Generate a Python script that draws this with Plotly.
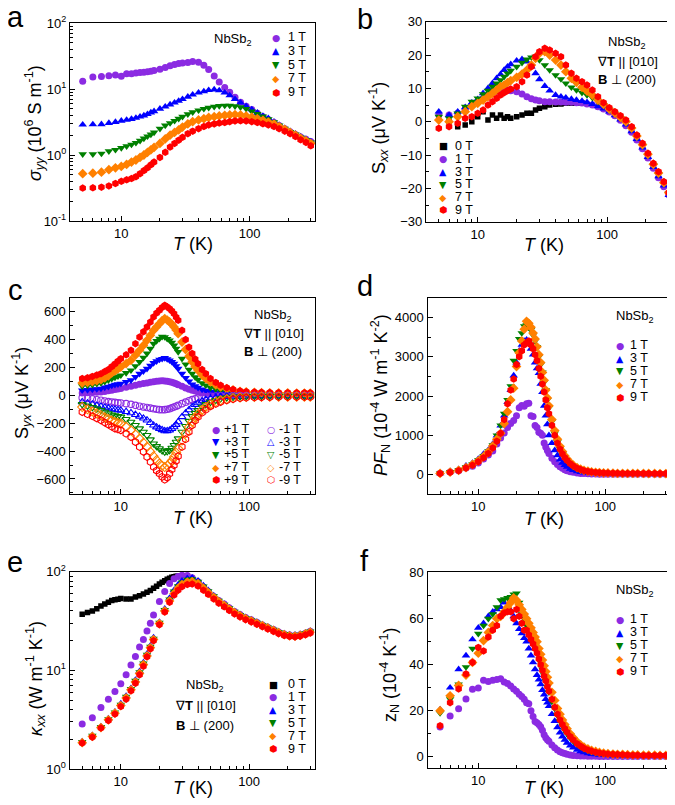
import plotly.graph_objects as go

# page body keeps an 8 px margin, so the figure is drawn 8 px smaller and offset
OFF = 8
W, H = 675 - OFF, 805 - OFF

# ---------------- temperature grids (K) ----------------
T = [5, 6, 7, 8, 9, 10, 11, 12, 13, 14,
     15, 16, 17, 18, 20, 22, 24, 26, 28, 30,
     33, 36, 40, 44, 48, 53, 58, 64, 70, 77,
     85, 94, 104, 115, 127, 140, 155, 170, 188, 207,
     228, 250, 275, 300]
T_b0 = [6, 7, 8, 9, 10, 11, 12, 13, 14, 15, 16, 17, 18, 20, 22, 24, 26, 28, 30,
        33, 36, 40, 44, 48, 53, 58, 64]
T_e0 = [5, 5.5, 6, 6.5, 7, 7.5, 8, 8.5, 9, 9.5, 10, 11, 12, 13, 14, 15, 16, 17, 18,
        19, 20, 21, 22, 23, 24, 25, 26, 27, 28]
T_c = [5, 5.5, 6, 6.5, 7, 7.5, 8, 8.5, 9, 9.5,
       10, 11, 12, 13, 14, 15, 16, 17, 18, 19,
       20, 21, 22, 23, 24, 25, 26, 27, 28, 30,
       32, 34, 36, 38, 40, 43, 46, 50, 55, 60,
       67, 75, 85, 95, 110, 125, 145, 170, 200, 235,
       270, 300]
T_df = [5, 6, 7, 8, 9, 10, 11, 12, 13, 14,
        15, 16, 17, 18, 19, 20, 21, 22, 23, 24,
        25, 26, 27, 28, 29, 30, 31, 32, 33, 34,
        35, 36, 38, 40, 42, 44, 46, 48, 50, 53,
        56, 60, 64, 68, 73, 78, 84, 90, 97, 105,
        115, 125, 137, 150, 165, 180, 200, 220, 245, 270,
        300]

# ---------------- a: sigma_yy (10^6 S/m) ----------------
sig_1T = [13.1, 15.2, 15.5, 15.9, 16.3, 15.6, 17.0, 17.0, 17.5, 17.8,
          18.0, 18.3, 18.5, 19.0, 20.0, 21.2, 22.5, 23.5, 24.3, 24.8,
          25.3, 26.0, 25.5, 23.0, 19.8, 15.8, 12.8, 10.5, 8.9, 7.5,
          6.3, 5.5, 4.9, 4.3, 3.8, 3.45, 3.1, 2.8, 2.5, 2.25,
          2.05, 1.88, 1.73, 1.6]
sig_3T = [2.88, 2.9, 2.92, 3.05, 3.15, 3.3, 3.4, 3.5, 3.65, 3.8,
          3.95, 4.15, 4.4, 4.6, 5.0, 5.4, 5.8, 6.2, 6.6, 7.0,
          7.6, 8.2, 8.8, 9.2, 9.6, 9.8, 9.5, 8.8, 8.0, 7.0,
          6.2, 5.5, 4.9, 4.35, 3.9, 3.6, 3.2, 2.85, 2.55, 2.3,
          2.1, 1.9, 1.75, 1.6]
sig_5T = [1.03, 1.03, 1.05, 1.14, 1.2, 1.28, 1.36, 1.44, 1.53, 1.65,
          1.78, 1.92, 2.05, 2.2, 2.5, 2.8, 3.05, 3.3, 3.55, 3.8,
          4.15, 4.45, 4.75, 5.0, 5.2, 5.4, 5.55, 5.6, 5.6, 5.5,
          5.3, 5.0, 4.6, 4.2, 3.85, 3.5, 3.15, 2.8, 2.5, 2.25,
          2.05, 1.85, 1.7, 1.55]
sig_7T = [0.52, 0.53, 0.55, 0.6, 0.64, 0.67, 0.72, 0.78, 0.84, 0.92,
          1.0, 1.1, 1.2, 1.3, 1.5, 1.75, 2.0, 2.2, 2.4, 2.65,
          2.95, 3.2, 3.4, 3.55, 3.7, 3.8, 3.9, 4.0, 4.05, 4.1,
          4.05, 3.9, 3.75, 3.55, 3.35, 3.15, 2.95, 2.7, 2.45, 2.2,
          2.0, 1.8, 1.65, 1.5]
sig_9T = [0.316, 0.318, 0.325, 0.34, 0.37, 0.4, 0.42, 0.44, 0.47, 0.52,
          0.58, 0.64, 0.71, 0.78, 0.92, 1.1, 1.32, 1.5, 1.68, 1.85,
          2.1, 2.3, 2.5, 2.7, 2.85, 2.95, 3.05, 3.1, 3.2, 3.28,
          3.3, 3.28, 3.2, 3.1, 2.97, 2.85, 2.7, 2.5, 2.3, 2.1,
          1.9, 1.7, 1.55, 1.38]

# ---------------- b: S_xx (uV/K) ----------------
Sxx_0T = [0.0, -1.5, -1.0, 0.0, 1.5, 3.0, 0.5, 2.0, 1.0, 2.0, 1.0, 1.5, 1.0, 1.5,
          2.0, 2.5, 2.5, 3.5, 4.0, 4.5, 5.0, 5.2, 5.3, 5.5, 5.5, 5.6, 5.6]
Sxx_1T = [2.0, 2.0, 2.5, 3.7, 5.0, 6.0, 7.0, 8.0, 8.7, 9.1,
          9.3, 9.5, 9.5, 9.3, 9.0, 8.3, 7.5, 6.9, 6.5, 6.3,
          6.0, 6.0, 5.9, 5.9, 5.8, 5.8, 5.7, 5.6, 5.3, 5.0,
          4.5, 3.8, 2.9, 1.8, 0.4, -1.2, -3.2, -5.5, -8.1, -10.9,
          -14.0, -16.8, -19.5, -22.0]
Sxx_3T = [3.0, 2.0, 3.0, 4.3, 5.7, 6.7, 8.5, 10.0, 11.5, 13.0,
          14.2, 15.5, 16.5, 17.2, 18.3, 18.7, 18.0, 16.5, 14.5, 12.7,
          10.7, 9.3, 8.0, 7.5, 7.2, 6.8, 6.5, 6.2, 5.8, 5.3,
          4.6, 3.9, 3.0, 1.9, 0.6, -0.9, -2.9, -5.2, -7.8, -10.6,
          -13.6, -16.4, -19.2, -22.0]
Sxx_5T = [1.5, 1.0, 2.5, 4.5, 6.0, 7.0, 8.3, 9.3, 10.5, 11.5,
          12.5, 13.5, 14.5, 15.3, 16.5, 17.7, 18.7, 19.3, 19.5, 18.5,
          17.0, 15.5, 14.0, 12.8, 11.5, 10.3, 9.5, 8.7, 8.0, 7.2,
          6.0, 4.9, 3.6, 2.4, 1.1, -0.3, -2.2, -4.6, -7.2, -10.0,
          -13.0, -15.8, -18.6, -21.5]
Sxx_7T = [0.5, 0.0, 1.5, 3.0, 4.5, 5.5, 6.5, 7.5, 8.5, 9.5,
          10.5, 11.0, 11.7, 12.3, 13.3, 14.3, 15.5, 17.0, 19.0, 20.5,
          21.0, 20.0, 18.5, 17.0, 15.0, 13.0, 11.8, 10.3, 9.2, 8.0,
          6.5, 5.2, 3.8, 2.6, 1.3, 0.0, -1.9, -4.3, -6.9, -9.8,
          -12.8, -15.4, -18.3, -21.3]
Sxx_9T = [-2.0, -1.5, -0.5, 1.0, 1.5, 2.5, 3.5, 5.0, 6.0, 7.0,
          8.0, 8.7, 9.3, 9.8, 10.5, 12.0, 14.0, 16.5, 19.5, 21.0,
          22.0, 21.5, 20.5, 19.5, 17.0, 14.5, 13.0, 12.0, 11.0, 9.5,
          7.5, 5.7, 4.2, 3.0, 1.8, 0.5, -1.5, -4.0, -6.5, -9.5,
          -12.5, -15.0, -18.0, -21.3]

# ---------------- c: S_yx (uV/K) ----------------
Syx_p1 = [17, 18, 20, 22, 24, 28, 32, 37, 41, 45,
          48, 57, 65, 72, 79, 84, 88, 93, 98, 101,
          103, 104, 103, 100, 98, 93, 88, 82, 76, 65,
          53, 44, 36, 30, 24, 18, 15, 12, 9, 7,
          6, 5, 5, 5, 4, 4, 4, 3, 3, 3,
          3, 3]
Syx_p3 = [36, 38, 42, 45, 48, 56, 62, 70, 76, 80,
          84, 96, 108, 132, 155, 173, 191, 212, 232, 245,
          256, 262, 268, 260, 251, 240, 227, 210, 191, 155,
          125, 100, 79, 66, 55, 42, 33, 26, 21, 17,
          14, 12, 11, 10, 9, 8, 8, 7, 7, 7,
          7, 7]
Syx_p5 = [65, 70, 75, 82, 88, 98, 108, 118, 128, 136,
          143, 160, 179, 210, 239, 270, 300, 335, 370, 390,
          406, 420, 418, 405, 394, 378, 358, 335, 311, 263,
          222, 185, 155, 130, 112, 88, 72, 55, 44, 36,
          28, 22, 18, 15, 13, 12, 12, 11, 11, 11,
          10, 10]
Syx_p7 = [88, 92, 98, 105, 112, 125, 140, 160, 175, 190,
          203, 228, 251, 288, 323, 358, 394, 430, 466, 490,
          514, 535, 550, 540, 526, 510, 490, 468, 442, 382,
          328, 280, 239, 205, 179, 145, 120, 96, 75, 60,
          48, 38, 29, 24, 21, 19, 18, 17, 17, 16,
          16, 16]
Syx_p9 = [120, 125, 135, 145, 155, 170, 185, 205, 225, 245,
          263, 290, 323, 370, 418, 455, 490, 525, 562, 590,
          610, 630, 645, 635, 621, 605, 585, 560, 538, 466,
          400, 345, 300, 260, 227, 185, 155, 120, 92, 72,
          55, 42, 31, 26, 23, 21, 20, 19, 19, 18,
          18, 18]
Syx_m1 = [-17, -22, -27, -32, -36, -41, -45, -48, -51, -53,
          -55, -60, -65, -72, -79, -84, -88, -92, -96, -100,
          -103, -104, -103, -100, -96, -90, -84, -78, -72, -60,
          -49, -39, -31, -25, -19, -13, -10, -7, -5, -4,
          -3, -3, -2, -2, -2, -2, -2, -2, -2, -2,
          -2, -2]
Syx_m3 = [-48, -56, -64, -72, -79, -86, -92, -98, -102, -105,
          -108, -118, -127, -139, -151, -165, -179, -197, -215, -228,
          -239, -248, -256, -255, -251, -240, -227, -210, -191, -155,
          -128, -105, -84, -68, -55, -42, -31, -24, -17, -12,
          -10, -9, -8, -7, -6, -6, -5, -5, -5, -5,
          -5, -5]
Syx_m5 = [-65, -76, -86, -97, -108, -120, -130, -139, -146, -151,
          -155, -172, -191, -215, -239, -263, -287, -318, -347, -366,
          -382, -396, -406, -402, -394, -378, -358, -335, -311, -263,
          -222, -185, -151, -128, -108, -84, -65, -48, -35, -24,
          -17, -12, -9, -7, -6, -6, -6, -6, -6, -6,
          -6, -6]
Syx_m7 = [-84, -100, -115, -130, -143, -158, -170, -182, -192, -198,
          -203, -226, -251, -281, -311, -340, -370, -405, -437, -465,
          -490, -505, -514, -505, -490, -468, -442, -412, -382, -323,
          -272, -228, -191, -160, -136, -105, -84, -65, -48, -36,
          -27, -20, -15, -12, -11, -10, -10, -10, -10, -10,
          -10, -10]
Syx_m9 = [-120, -135, -150, -165, -179, -195, -210, -225, -238, -245,
          -251, -275, -299, -335, -370, -405, -442, -478, -514, -540,
          -562, -585, -605, -590, -562, -532, -502, -470, -437, -370,
          -315, -262, -215, -182, -155, -125, -103, -79, -62, -48,
          -37, -28, -21, -17, -15, -14, -13, -12, -12, -12,
          -12, -12]

# ---------------- d: PF_N (10^-4 W m^-1 K^-2) ----------------
PF_1T = [34, 68, 102, 170, 212, 297, 400, 500, 600, 780,
         934, 1060, 1200, 1300, 1375, 1500, 1700, 1757, 1740, 1800,
         1817, 1500, 1480, 1250, 1200, 1078, 1050, 1000, 807, 700,
         612, 540, 420, 330, 260, 200, 160, 125, 100, 75,
         58, 42, 32, 26, 20, 17, 15, 13, 12, 11,
         10, 10, 9, 9, 9, 9, 8, 8, 8, 8,
         8]
PF_3T = [34, 85, 136, 229, 297, 400, 526, 628, 781, 993,
         1248, 1503, 1842, 2150, 2520, 2850, 3150, 3300, 3400, 3430,
         3330, 3200, 3050, 2850, 2700, 2580, 2310, 2100, 1750, 1500,
         1280, 1000, 800, 620, 490, 380, 300, 240, 195, 145,
         115, 85, 65, 52, 42, 36, 31, 28, 26, 24,
         22, 21, 20, 20, 19, 19, 18, 18, 18, 18,
         18]
PF_5T = [34, 70, 120, 190, 270, 370, 480, 600, 750, 1000,
         1250, 1550, 1900, 2250, 2900, 3150, 3450, 3600, 3780, 3800,
         3740, 3680, 3550, 3400, 3250, 3000, 2800, 2600, 2350, 2150,
         1900, 1700, 1350, 1050, 830, 660, 530, 430, 350, 265,
         200, 148, 112, 88, 70, 58, 49, 43, 38, 35,
         32, 30, 29, 28, 27, 26, 25, 25, 24, 24,
         24]
PF_7T = [30, 65, 110, 180, 260, 350, 460, 580, 730, 900,
         1050, 1300, 1600, 1900, 2200, 2750, 3100, 3400, 3700, 3900,
         3850, 3750, 3600, 3450, 3250, 3050, 2850, 2600, 2400, 2150,
         1950, 1750, 1400, 1120, 900, 720, 590, 480, 400, 310,
         240, 180, 140, 110, 88, 72, 60, 52, 46, 42,
         38, 35, 33, 32, 31, 30, 30, 29, 29, 28,
         28]
PF_9T = [30, 60, 100, 170, 240, 330, 430, 540, 680, 850,
         1050, 1400, 1800, 2150, 2430, 2800, 3000, 3150, 3300, 3350,
         3400, 3300, 3200, 3050, 2900, 2700, 2500, 2300, 2100, 1900,
         1700, 1550, 1250, 1000, 800, 650, 530, 430, 360, 280,
         220, 165, 128, 100, 80, 66, 56, 49, 44, 40,
         36, 34, 32, 31, 30, 30, 29, 29, 28, 28,
         28]

# ---------------- e: kappa_xx (W m^-1 K^-1) ----------------
kap_0T = [37, 38.5, 40, 42, 45, 47, 49, 51, 52, 52.5, 53.5, 53, 53, 55.5, 57,
          59.5, 62, 64.5, 68, 71, 75, 78, 81, 84, 86, 88, 89, 90, 90]
kap_1T = [2.86, 3.3, 4.2, 5.1, 6.1, 7.3, 9.0, 11.3, 13.8, 17.2,
          20.5, 25.0, 30.0, 36.5, 50.0, 63.0, 76.0, 85.0, 89.5, 92.0,
          91.5, 87.0, 79.0, 70.0, 63.0, 56.0, 51.0, 47.0, 43.0, 39.5,
          36.8, 34.4, 32.5, 30.7, 28.9, 27.4, 25.9, 24.5, 23.4, 22.8,
          22.6, 23.0, 23.8, 24.9]
kap_3T = [1.9, 2.2, 2.7, 3.25, 3.8, 4.6, 5.5, 6.6, 8.0, 9.8,
          12.0, 14.7, 17.8, 21.5, 31.0, 42.0, 54.0, 65.0, 74.0, 81.0,
          86.0, 87.0, 81.0, 72.5, 65.0, 57.5, 51.5, 47.0, 43.0, 39.7,
          37.0, 34.6, 32.7, 30.9, 29.1, 27.6, 26.1, 24.8, 23.7, 23.1,
          22.9, 23.3, 24.1, 25.1]
kap_5T = [1.88, 2.18, 2.67, 3.2, 3.75, 4.5, 5.4, 6.5, 7.85, 9.6,
          11.8, 14.4, 17.4, 21.0, 30.5, 41.0, 52.5, 63.0, 71.5, 78.0,
          83.0, 84.0, 79.5, 71.0, 63.5, 56.5, 51.0, 46.5, 42.7, 39.3,
          36.5, 34.1, 32.3, 30.5, 28.8, 27.3, 25.8, 24.5, 23.4, 22.8,
          22.6, 23.0, 23.8, 24.8]
kap_7T = [1.85, 2.14, 2.63, 3.15, 3.68, 4.4, 5.25, 6.35, 7.6, 9.3,
          11.4, 14.0, 16.9, 20.5, 29.8, 40.0, 50.5, 60.0, 68.0, 74.0,
          78.5, 79.5, 75.5, 68.0, 61.5, 55.0, 49.8, 45.5, 41.8, 38.5,
          35.8, 33.5, 31.8, 30.0, 28.4, 26.9, 25.4, 24.1, 23.0, 22.4,
          22.2, 22.6, 23.4, 24.4]
kap_9T = [1.83, 2.1, 2.6, 3.1, 3.6, 4.3, 5.1, 6.2, 7.4, 9.0,
          11.0, 13.7, 16.5, 20.0, 29.0, 39.0, 49.0, 58.0, 65.0, 70.5,
          74.0, 75.0, 71.5, 65.0, 59.0, 53.0, 48.0, 44.0, 40.5, 37.3,
          34.8, 32.6, 31.0, 29.3, 27.7, 26.2, 24.8, 23.5, 22.5, 22.0,
          21.8, 22.2, 22.9, 23.9]

# ---------------- f: z_N (10^-4 K^-1) ----------------
zN_1T = [12.9, 17.7, 20.9, 25.1, 29.3, 29.9, 33.2, 32.7, 33.2, 33.6,
         33.9, 32.5, 31.8, 30.8, 29.5, 28.5, 27.2, 26.2, 25.0, 23.5,
         23.0, 20.0, 17.5, 15.3, 14.8, 14.0, 13.0, 11.5, 9.6, 8.3,
         7.4, 6.8, 5.1, 3.9, 2.9, 2.2, 1.8, 1.4, 1.1, 0.8,
         0.6, 0.45, 0.35, 0.3, 0.25, 0.2, 0.2, 0.15, 0.15, 0.15,
         0.1, 0.1, 0.1, 0.1, 0.1, 0.1, 0.1, 0.1, 0.1, 0.1,
         0.1]
zN_3T = [20.5, 30.0, 38.0, 44.0, 51.0, 56.0, 58.0, 61.0, 63.0, 64.0,
         65.0, 67.0, 65.5, 63.5, 61.0, 58.0, 55.5, 53.6, 51.5, 50.0,
         47.0, 44.0, 41.0, 38.0, 35.5, 33.5, 31.5, 29.0, 27.0, 25.0,
         23.5, 22.0, 18.5, 15.5, 12.8, 10.5, 8.8, 7.3, 6.1, 4.9,
         4.0, 3.0, 2.4, 1.9, 1.5, 1.2, 1.0, 0.8, 0.7, 0.6,
         0.5, 0.5, 0.4, 0.4, 0.4, 0.3, 0.3, 0.3, 0.3, 0.3,
         0.3]
zN_5T = [19.0, 25.0, 31.5, 39.0, 47.0, 53.5, 57.0, 60.0, 62.0, 65.0,
         68.0, 68.5, 69.0, 69.5, 70.5, 71.0, 67.0, 62.0, 60.0, 57.0,
         54.5, 52.0, 50.0, 48.0, 46.0, 44.0, 41.0, 38.0, 35.5, 33.0,
         30.5, 28.0, 24.0, 21.0, 18.0, 15.5, 13.5, 11.5, 10.0, 8.2,
         6.8, 5.3, 4.2, 3.4, 2.7, 2.2, 1.8, 1.5, 1.3, 1.1,
         1.0, 0.9, 0.8, 0.7, 0.7, 0.6, 0.6, 0.5, 0.5, 0.5,
         0.5]
zN_7T = [20.0, 26.5, 31.0, 35.5, 41.0, 45.0, 50.5, 54.0, 57.0, 60.0,
         61.0, 63.0, 65.0, 67.0, 69.0, 68.0, 66.0, 64.0, 62.0, 60.0,
         58.0, 56.0, 54.0, 52.0, 50.0, 47.0, 44.5, 42.0, 39.5, 37.0,
         34.5, 32.0, 28.0, 24.5, 21.0, 18.5, 16.0, 14.0, 12.2, 10.0,
         8.3, 6.5, 5.2, 4.2, 3.4, 2.8, 2.3, 1.9, 1.6, 1.4,
         1.2, 1.1, 1.0, 0.9, 0.8, 0.8, 0.7, 0.7, 0.7, 0.6,
         0.6]
zN_9T = [13.5, 23.5, 29.5, 36.0, 41.0, 47.5, 46.0, 52.0, 55.0, 57.0,
         61.0, 62.5, 63.0, 63.0, 60.0, 64.0, 61.0, 58.0, 55.0, 55.0,
         53.0, 51.0, 49.0, 47.0, 45.0, 42.5, 40.0, 37.5, 35.0, 33.0,
         30.5, 28.5, 25.0, 21.5, 18.5, 16.0, 14.0, 12.2, 10.7, 8.8,
         7.3, 5.7, 4.6, 3.7, 3.0, 2.5, 2.0, 1.7, 1.4, 1.2,
         1.1, 1.0, 0.9, 0.8, 0.7, 0.7, 0.6, 0.6, 0.6, 0.6,
         0.6]

# ---------------- styling ----------------
PURPLE, BLUE, GREEN = '#8B2BE2', '#0000FF', '#008000'
ORANGE, RED, BLACK = '#FF8000', '#FF0000', '#000000'
FONT = 'Liberation Sans, Arial, sans-serif'
SYMFONT = 'DejaVu Sans'

fig = go.Figure()


def add(x, y, ax, color, symbol, size=7, hollow=False):
    fig.add_trace(go.Scatter(
        x=x, y=y, xaxis='x' + ax, yaxis='y' + ax, mode='markers',
        marker=dict(color=color, symbol=symbol, size=size,
                    line=dict(width=1.1 if hollow else 0, color=color)),
        showlegend=False, hoverinfo='skip'))


# a
add(T, sig_1T, '', PURPLE, 'circle')
add(T, sig_3T, '', BLUE, 'triangle-up', 7.5)
add(T, sig_5T, '', GREEN, 'triangle-down', 7.5)
add(T, sig_7T, '', ORANGE, 'diamond', 7.5)
add(T, sig_9T, '', RED, 'hexagon', 7.5)
# b
add(T_b0, Sxx_0T, '2', BLACK, 'square', 5.5)
add(T, Sxx_1T, '2', PURPLE, 'circle')
add(T, Sxx_3T, '2', BLUE, 'triangle-up', 7.5)
add(T, Sxx_5T, '2', GREEN, 'triangle-down', 7.5)
add(T, Sxx_7T, '2', ORANGE, 'diamond', 7.5)
add(T, Sxx_9T, '2', RED, 'hexagon', 7.5)
# c
add(T_c, Syx_p1, '3', PURPLE, 'circle')
add(T_c, Syx_p3, '3', BLUE, 'triangle-down', 7.5)
add(T_c, Syx_p5, '3', GREEN, 'triangle-down', 7.5)
add(T_c, Syx_p7, '3', ORANGE, 'diamond', 7.5)
add(T_c, Syx_p9, '3', RED, 'hexagon', 7.5)
add(T_c, Syx_m1, '3', PURPLE, 'circle-open', 6.5, True)
add(T_c, Syx_m3, '3', BLUE, 'triangle-up-open', 7, True)
add(T_c, Syx_m5, '3', GREEN, 'triangle-down-open', 7, True)
add(T_c, Syx_m7, '3', ORANGE, 'diamond-open', 7, True)
add(T_c, Syx_m9, '3', RED, 'hexagon-open', 7, True)
# d
add(T_df, PF_1T, '4', PURPLE, 'circle')
add(T_df, PF_3T, '4', BLUE, 'triangle-up', 7.5)
add(T_df, PF_5T, '4', GREEN, 'triangle-down', 7.5)
add(T_df, PF_7T, '4', ORANGE, 'diamond', 7.5)
add(T_df, PF_9T, '4', RED, 'hexagon', 7.5)
# e
add(T_e0, kap_0T, '5', BLACK, 'square', 5.5)
add(T, kap_1T, '5', PURPLE, 'circle')
add(T, kap_3T, '5', BLUE, 'triangle-up', 7.5)
add(T, kap_5T, '5', GREEN, 'triangle-down', 7.5)
add(T, kap_7T, '5', ORANGE, 'diamond', 7.5)
add(T, kap_9T, '5', RED, 'hexagon', 7.5)
# f
add(T_df, zN_1T, '6', PURPLE, 'circle')
add(T_df, zN_3T, '6', BLUE, 'triangle-up', 7.5)
add(T_df, zN_5T, '6', GREEN, 'triangle-down', 7.5)
add(T_df, zN_7T, '6', ORANGE, 'diamond', 7.5)
add(T_df, zN_9T, '6', RED, 'hexagon', 7.5)

# ---------------- axes ----------------
def px(x):
    return (x - OFF) / W


def py(y):
    return 1 - (y - OFF) / H


frames = {'': (70, 23, 315, 221), '2': (426, 21.7, 673, 221.7),
          '3': (69.5, 297.7, 314.5, 494.3), '4': (427.5, 297.7, 670, 494.3),
          '5': (69.5, 571.7, 314.5, 769), '6': (427.5, 571.7, 670, 768.3)}

tickfont = dict(family=FONT, size=13, color='black')
common = dict(showline=True, mirror=True, linecolor='black', linewidth=1.4,
              ticks='inside', ticklen=5, tickwidth=1.2, tickcolor='black',
              showgrid=False, zeroline=False, tickfont=tickfont, automargin=False)
minor_x = [5, 6, 7, 8, 9, 20, 30, 40, 50, 60, 70, 80, 90, 200, 300]
minor_log = [m * 10 ** k for k in (-1, 0, 1) for m in range(2, 10)]
exp_lbl = {0.1: '10<sup>-1</sup>', 1: '10<sup>0</sup>', 10: '10<sup>1</sup>', 100: '10<sup>2</sup>'}

yspecs = {
    '': dict(type='log', range=[-1, 2], tickvals=[0.1, 1, 10, 100],
             ticktext=[exp_lbl[v] for v in [0.1, 1, 10, 100]],
             minor=dict(tickvals=minor_log, ticks='inside', ticklen=3, tickcolor='black')),
    '2': dict(range=[-30, 30], dtick=10, tick0=0,
              minor=dict(dtick=5, ticks='inside', ticklen=3, tickcolor='black')),
    '3': dict(range=[-710, 700], dtick=200, tick0=0,
              minor=dict(dtick=100, ticks='inside', ticklen=3, tickcolor='black')),
    '4': dict(range=[-500, 4500], dtick=1000, tick0=0,
              minor=dict(dtick=500, ticks='inside', ticklen=3, tickcolor='black')),
    '5': dict(type='log', range=[0, 2], tickvals=[1, 10, 100],
              ticktext=[exp_lbl[v] for v in [1, 10, 100]],
              minor=dict(tickvals=minor_log, ticks='inside', ticklen=3, tickcolor='black')),
    '6': dict(range=[-5, 80.4], dtick=20, tick0=0,
              minor=dict(dtick=10, ticks='inside', ticklen=3, tickcolor='black')),
}

layout_axes = {}
for ax, (l, t, r, b) in frames.items():
    xa = dict(common, type='log', range=[0.6, 2.51], domain=[px(l), px(r)],
              anchor='y' + ax, tickvals=[10, 100], ticktext=['10', '100'],
              minor=dict(tickvals=minor_x, ticks='inside', ticklen=3, tickcolor='black'))
    ya = dict(common, domain=[py(b), py(t)], anchor='x' + ax)
    ya.update(yspecs[ax])
    layout_axes['xaxis' + ax] = xa
    layout_axes['yaxis' + ax] = ya

# ---------------- annotations ----------------
ann = []


def text(x, y, s, size=13, xanchor='center', angle=0, color='black', family=FONT):
    ann.append(dict(x=px(x), y=py(y), xref='paper', yref='paper', text=s,
                    showarrow=False, xanchor=xanchor, yanchor='middle',
                    textangle=angle, font=dict(family=family, size=size, color=color)))


# panel letters (kept inside the drawable page area)
for s, x, y in [('a', 15, 17), ('b', 365, 19), ('c', 15, 290), ('d', 365, 286),
                ('e', 15, 562), ('f', 365, 561)]:
    text(x, y, s, size=29)

# axis titles
TK = '<i>T</i> (K)'
for x, y in [(193, 244), (544, 245), (193, 518), (544, 519), (193, 788), (544, 788)]:
    text(x, y, TK, size=18)
text(34, 123, '<i>σ</i><sub><i>yy</i></sub> (10<sup>6</sup> S m<sup>-1</sup>)', size=18, angle=-90)
text(379, 128, 'S<sub><i>xx</i></sub> (μV K<sup>-1</sup>)', size=18, angle=-90)
text(21, 393, 'S<sub><i>yx</i></sub> (μV K<sup>-1</sup>)', size=18, angle=-90)
text(380, 395, '<i>PF</i><sub>N</sub> (10<sup>-4</sup> W m<sup>-1</sup> K<sup>-2</sup>)', size=18, angle=-90)
text(35, 679, '<i>κ</i><sub><i>xx</i></sub> (W m<sup>-1</sup> K<sup>-1</sup>)', size=18, angle=-90)
text(389, 675, 'z<sub>N</sub> (10<sup>-4</sup> K<sup>-1</sup>)', size=18, angle=-90)

# sample / geometry labels
NB = 'NbSb<sub>2</sub>'
GRAD = '∇<b>T</b> || [010]'
BPERP = '<b>B</b> ⊥ (200)'
text(233, 40, NB)
for x, y0 in [(627, 43), (273, 315)]:
    text(x, y0, NB)
    text(x, y0 + 18, GRAD)
    text(x, y0 + 36, BPERP)
text(635, 317, NB)
text(635, 590, NB)
text(205, 685, NB)
text(205, 705, GRAD)
text(205, 725, BPERP)

# legends: glyph + label rows
GLYPH = {'square': '■', 'circle': '●', 'up': '▲', 'down': '▼', 'diamond': '◆',
         'hex': '⬢', 'ocircle': '○', 'oup': '△', 'odown': '▽', 'odiamond': '◇', 'ohex': '⬡'}


def legend(mx, tx, y0, dy, entries):
    for i, (g, color, lbl) in enumerate(entries):
        y = y0 + i * dy
        text(mx, y, GLYPH[g], size=9.5, color=color, family=SYMFONT)
        text(tx, y, lbl, size=12.5, xanchor='left')


five = [('circle', PURPLE, '1 T'), ('up', BLUE, '3 T'), ('down', GREEN, '5 T'),
        ('diamond', ORANGE, '7 T'), ('hex', RED, '9 T')]
legend(276, 286, 37, 13.8, five)
legend(443, 453, 146, 12.8, [('square', BLACK, '0 T')] + five)
legend(216, 222, 429, 12.7, [('circle', PURPLE, '+1 T'), ('down', BLUE, '+3 T'),
                             ('down', GREEN, '+5 T'), ('diamond', ORANGE, '+7 T'),
                             ('hex', RED, '+9 T')])
legend(271, 277, 429, 12.7, [('ocircle', PURPLE, '-1 T'), ('oup', BLUE, '-3 T'),
                             ('odown', GREEN, '-5 T'), ('odiamond', ORANGE, '-7 T'),
                             ('ohex', RED, '-9 T')])
legend(620, 628, 345, 13, five)
legend(273, 286, 684, 12.9, [('square', BLACK, '0 T')] + five)
legend(620, 628, 619, 13, five)

fig.update_layout(
    width=W, height=H, margin=dict(l=0, r=0, t=0, b=0, autoexpand=False),
    paper_bgcolor='white', plot_bgcolor='white',
    font=dict(family=FONT, color='black'),
    annotations=ann, showlegend=False, **layout_axes)

fig.write_html('out.html')
